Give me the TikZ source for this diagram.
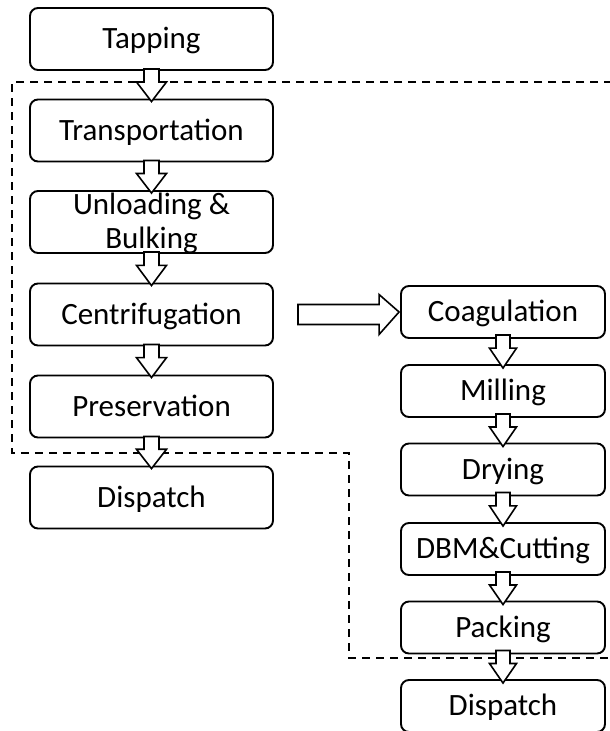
\documentclass[tikz,border=0pt]{standalone}
\usepackage{fontspec}
\setmainfont{Carlito}
\usetikzlibrary{calc}

\tikzset{
  stage/.style={draw, line width=1.9pt, rounded corners=8pt, fill=white,
    inner sep=0pt, align=center, text height=19pt, text depth=0pt,
    font=\fontsize{31}{34}\selectfont},
  leftstage/.style={stage, minimum width=243pt, minimum height=62pt},
  rightstage/.style={stage, minimum width=204pt, minimum height=52pt},
  blk/.style={draw, line width=1.6pt, fill=white, line join=miter},
  boundary/.style={draw, line width=1.8pt, dash pattern=on 8pt off 6pt}
}

% hollow block arrow from the bottom of one stage to the top of the next
% #1 upper node, #2 lower node, #3 gap above, #4 gap below,
% #5 shaft half width, #6 head half width
\newcommand\flowarrow[6]{%
  \path[blk] let \p1=($(#1.south)+(0,-#3)$), \p2=($(#2.north)+(0,#4)$),
    \n1={(\y1-\y2)*0.4} in
    (\x1-#5,\y1) -- (\x1+#5,\y1) -- (\x1+#5,\y1-\n1) -- (\x1+#6,\y1-\n1)
    -- (\x1,\y2) -- (\x1-#6,\y1-\n1) -- (\x1-#5,\y1-\n1) -- cycle;}

\begin{document}
\begin{tikzpicture}[x=1pt, y=-1pt]
  \useasboundingbox (0,0) rectangle (610,731);
  \clip (0,0) rectangle (610,731);

  % boundary of the processing area
  \coordinate (b1) at (612,82);
  \coordinate (b2) at (12,82);
  \coordinate (b3) at (12,453);
  \coordinate (b4) at (349,453);
  \coordinate (b5) at (349,658);
  \coordinate (b6) at (612,658);
  \path[boundary] (b1) -- (b2) -- (b3) -- (b4) -- (b5) -- (b6);

  % latex concentrate line
  \node[leftstage] (tap)   at (151.5,39)    {Tapping};
  \node[leftstage] (trans) at (151.5,130.5) {Transportation};
  \node[leftstage, text height=53pt] (unl) at (151.5,222) {Unloading \&\\Bulking};
  \node[leftstage] (cent)  at (151.5,314.5) {Centrifugation};
  \node[leftstage] (pres)  at (151.5,406.5) {Preservation};
  \node[leftstage] (dispL) at (151.5,497.5) {Dispatch};

  % block rubber line
  \node[rightstage] (coag)  at (503,312)   {Coagulation};
  \node[rightstage] (mill)  at (503,391)   {Milling};
  \node[rightstage] (dry)   at (503,469.5) {Drying};
  \node[rightstage] (dbm)   at (503,549)   {DBM\&Cutting};
  \node[rightstage] (pack)  at (503,627.5) {Packing};
  \node[rightstage] (dispR) at (503,706)   {Dispatch};

  % arrows between stages
  \flowarrow{tap}{trans}{2}{3}{7.5}{15}
  \flowarrow{trans}{unl}{2}{3}{7.5}{15}
  \flowarrow{unl}{cent}{2}{3}{7.5}{15}
  \flowarrow{cent}{pres}{2}{3}{7.5}{15}
  \flowarrow{pres}{dispL}{2}{3}{7.5}{15}

  \flowarrow{coag}{mill}{4}{4}{7}{13.5}
  \flowarrow{mill}{dry}{4}{4}{7}{13.5}
  \flowarrow{dry}{dbm}{4}{4}{7}{13.5}
  \flowarrow{dbm}{pack}{4}{4}{7}{13.5}
  \flowarrow{pack}{dispR}{4}{4}{7}{13.5}

  % transfer to the block rubber line
  \path[blk] let \p1=($(cent.east)+(24,0)$), \p2=($(coag.west)+(-1,0)$) in
    (\x1,\y1-10) -- (\x2-20,\y1-10) -- (\x2-20,\y1-20) -- (\x2,\y2)
    -- (\x2-20,\y1+20) -- (\x2-20,\y1+10) -- (\x1,\y1+10) -- cycle;
\end{tikzpicture}
\end{document}
